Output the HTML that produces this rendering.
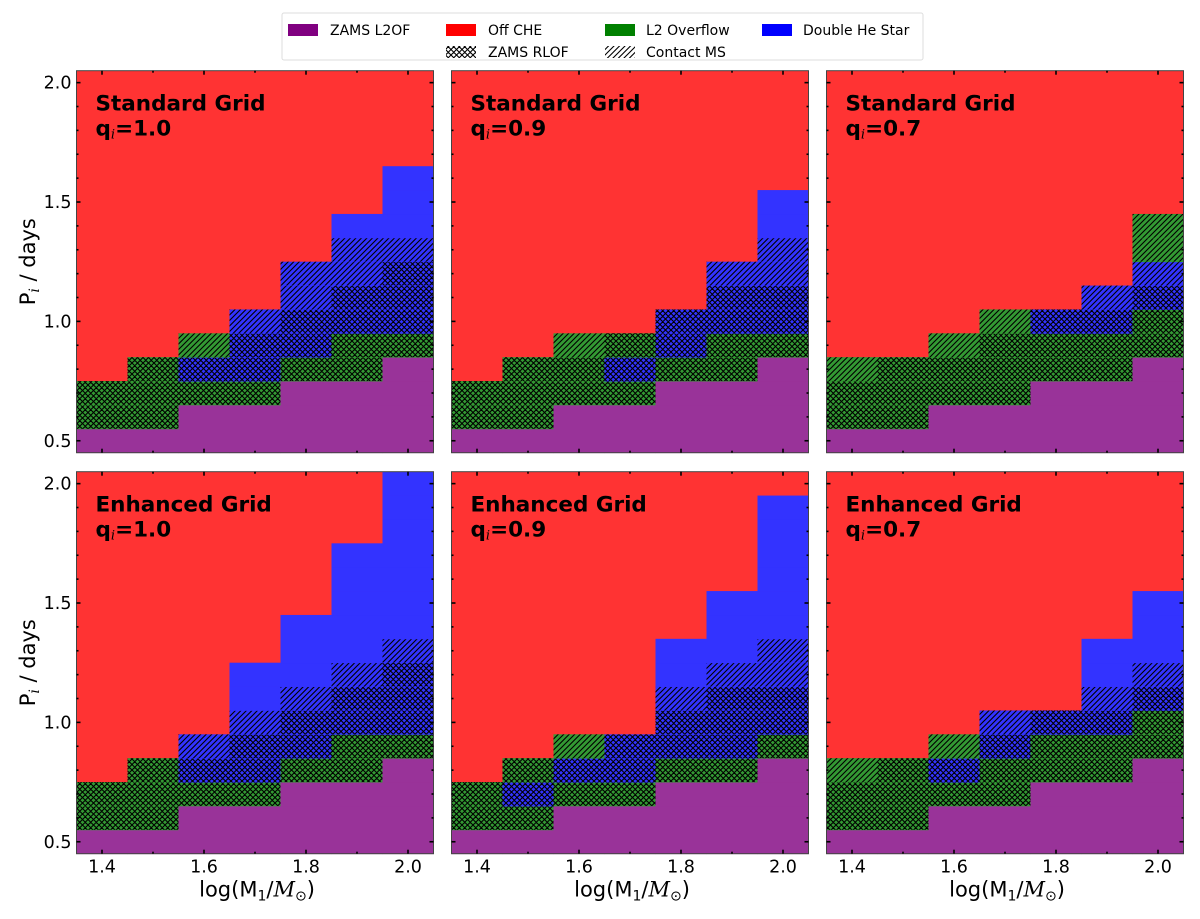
<!DOCTYPE html>
<html><head><meta charset="utf-8"><style>
html,body{margin:0;padding:0;background:#fff;}
svg{display:block;font-family:"DejaVu Sans","Liberation Sans",sans-serif;}
</style></head><body>
<svg id="fig" width="1200" height="919" viewBox="0 0 1200 919" xmlns="http://www.w3.org/2000/svg">
<defs>
<pattern id="hx" patternUnits="userSpaceOnUse" width="5.5" height="5.5">
<path d="M0,5.5 L5.5,0 M-1,1 L1,-1 M4.5,6.5 L6.5,4.5 M0,0 L5.5,5.5 M-1,4.5 L1,6.5 M4.5,-1 L6.5,1" stroke="#000" stroke-width="1.1" fill="none"/>
</pattern>
<pattern id="hd" patternUnits="userSpaceOnUse" width="5.5" height="5.5">
<path d="M0,5.5 L5.5,0 M-1,1 L1,-1 M4.5,6.5 L6.5,4.5" stroke="#000" stroke-width="1.1" fill="none"/>
</pattern>
</defs>
<g>
<rect x="282" y="13" width="641" height="47" fill="#fff" stroke="#ddd" stroke-width="1" rx="2"/>
<g><rect x="288" y="24" width="30" height="12" fill="#800080"/><text x="330" y="35" font-size="14">ZAMS L2OF</text></g>
<g><rect x="446" y="24" width="30" height="12" fill="#ff0000"/><text x="488" y="35" font-size="14">Off CHE</text></g>
<g><rect x="605" y="24" width="30" height="12" fill="#008000"/><text x="646" y="35" font-size="14">L2 Overflow</text></g>
<g><rect x="762" y="24" width="30" height="12" fill="#0000ff"/><text x="803" y="35" font-size="14">Double He Star</text></g>
<g><rect x="446" y="46" width="30" height="12" fill="url(#hx)"/><text x="488" y="57" font-size="14">ZAMS RLOF</text></g>
<g><rect x="605" y="46" width="30" height="12" fill="url(#hd)"/><text x="646" y="57" font-size="14">Contact MS</text></g>
</g>
<g id="panels"></g>
</svg>
<script>
// Data: mass bins (log M1) and period bins (P_i / days)
const massBins = [1.4, 1.5, 1.6, 1.7, 1.8, 1.9, 2.0];
const periodBins = [0.5,0.6,0.7,0.8,0.9,1.0,1.1,1.2,1.3,1.4,1.5,1.6,1.7,1.8,1.9,2.0];
const xTickVals = [1.4, 1.6, 1.8, 2.0];
const xTickLabels = ["1.4", "1.6", "1.8", "2.0"];
const yTickVals = [0.5, 1.0, 1.5, 2.0];
const yTickLabels = ["0.5", "1.0", "1.5", "2.0"];
const panelGrids = ["Standard Grid","Standard Grid","Standard Grid","Enhanced Grid","Enhanced Grid","Enhanced Grid"];
const panelQ = ["1.0","0.9","0.7","1.0","0.9","0.7"];
// cell codes per mass column, from P=0.5 upward; remaining rows are Off CHE
// p=ZAMS L2OF, X=L2 overflow+ZAMS RLOF, D=L2 overflow+contact, g=L2 overflow,
// x=double He+ZAMS RLOF, d=double He+contact, b=double He, r=off CHE
const cellsStdQ10 = ["pXX","pXXX","ppXxD","ppXxxd","pppXxxdd","pppXXxxddb","ppppXxxxdbbb"];
const cellsStdQ09 = ["pXX","pXXX","ppXXD","ppXxX","pppXxx","pppXXxxd","ppppXxxddbb"];
const cellsStdQ07 = ["pXXD","pXXX","ppXXD","ppXXXD","pppXXx","pppXXxd","ppppXXxdDD"];
const cellsEnhQ10 = ["pXX","pXXX","ppXxd","ppXxxdbb","pppXxxdbbb","pppXXxxdbbbbb","ppppXxxxdbbbbbbb"];
const cellsEnhQ09 = ["pXX","pXxX","ppXxD","ppXxx","pppXxxdbb","pppXxxxdbbb","ppppXxxddbbbbbb"];
const cellsEnhQ07 = ["pXXD","pXXX","ppXxD","ppXXxd","pppXXx","pppXXxdbb","ppppXXxdbbb"];
const panelCells = [cellsStdQ10, cellsStdQ09, cellsStdQ07, cellsEnhQ10, cellsEnhQ09, cellsEnhQ07];

const NS = "http://www.w3.org/2000/svg";
const colX = [76.5, 451.5, 826.5];
const rowY = [70.7, 471.7];
const PW = 357, PH = 382;
const xMin = 1.35, xMax = 2.05, yMin = 0.45, yMax = 2.05;
const fillOf = {p:"#993399", X:"#339933", D:"#339933", g:"#339933", x:"#3333ff", d:"#3333ff", b:"#3333ff", r:"#ff3333"};
const hatchOf = {X:"url(#hx)", x:"url(#hx)", D:"url(#hd)", d:"url(#hd)"};
function mk(tag, attrs, parent){ const e=document.createElementNS(NS,tag); for(const k in attrs) e.setAttribute(k,attrs[k]); parent.appendChild(e); return e; }
const root = document.getElementById('panels');
for (let pi=0; pi<6; pi++){
  const c = pi%3, r = Math.floor(pi/3);
  const L = colX[c], T = rowY[r];
  const sx = v => L + (v - xMin)/(xMax - xMin)*PW;
  const sy = v => T + PH - (v - yMin)/(yMax - yMin)*PH;
  const g = mk('g', {}, root);
  
  
  const bg = mk('rect', {x:L, y:T, width:PW, height:PH, fill:fillOf.r}, g);
  
  
  const cells = panelCells[pi];
  for (let mi=0; mi<massBins.length; mi++){
    const col = cells[mi];
    for (let k=0; k<col.length; k++){
      const code = col[k];
      const m = massBins[mi], p = periodBins[k];
      const x0 = sx(m-0.05), x1 = sx(m+0.05), y0 = sy(p+0.05), y1 = sy(p-0.05);
      const rc = mk('rect', {x:x0, y:y0, width:x1-x0+0.4, height:y1-y0+0.4, fill:fillOf[code]}, g);
      
      
      if (hatchOf[code]) {
        const h = mk('rect', {x:x0, y:y0, width:x1-x0, height:y1-y0, fill:hatchOf[code]}, g);
        
        
      }
    }
  }
  const fr = mk('rect', {x:L, y:T, width:PW, height:PH, fill:'none', stroke:'#444', 'stroke-width':1}, g);
  
  
  for (let v=1.4; v<=2.0001; v+=0.1){
    const major = Math.abs((v*10)%2) < 0.01 || Math.abs((v*10)%2-2)<0.01;
    const len = major?4:2;
    const X = sx(v);
    mk('line',{x1:X,y1:T+PH,x2:X,y2:T+PH-len,stroke:'#000','stroke-width':1.6},g);
    mk('line',{x1:X,y1:T,x2:X,y2:T+len,stroke:'#000','stroke-width':1.6},g);
  }
  for (let k=0;k<periodBins.length;k++){
    const v = periodBins[k];
    const major = yTickVals.some(t=>Math.abs(t-v)<1e-6);
    const len = major?4:2;
    const Y = sy(v);
    mk('line',{x1:L,y1:Y,x2:L+len,y2:Y,stroke:'#000','stroke-width':1.6},g);
    mk('line',{x1:L+PW,y1:Y,x2:L+PW-len,y2:Y,stroke:'#000','stroke-width':1.6},g);
  }
  if (c===0){
    for (let k=0;k<yTickVals.length;k++){
      const t = mk('text',{x:L-5,y:sy(yTickVals[k])+6,'font-size':17.5,'text-anchor':'end'},g);
      t.textContent = yTickLabels[k];
      
      
    }
    const yl = mk('text',{x:0,y:0,'font-size':21,'text-anchor':'middle',transform:`translate(35,${T+PH/2}) rotate(-90)`},g);
    
    
    yl.innerHTML = 'P<tspan font-size="14" font-style="italic" font-family="DejaVu Serif,serif" dy="4">i</tspan><tspan dy="-4"> / days</tspan>';
  }
  if (r===1){
    for (let k=0;k<xTickVals.length;k++){
      const t = mk('text',{x:sx(xTickVals[k]),y:T+PH+19,'font-size':17.5,'text-anchor':'middle'},g);
      t.textContent = xTickLabels[k];
      
      
    }
    const xl = mk('text',{x:L+PW/2+2,y:T+PH+43,'font-size':21,'text-anchor':'middle'},g);
    
    
    xl.innerHTML = 'log(M<tspan font-size="14" dy="4">1</tspan><tspan dy="-4">/</tspan><tspan font-style="italic" font-family="DejaVu Serif,serif">M</tspan><tspan font-size="14" dy="4">⊙</tspan><tspan dy="-4">)</tspan>';
  }
  const t1 = mk('text',{x:L+19,y:T+40,'font-size':21.5,'font-weight':'bold'},g);
  t1.textContent = panelGrids[pi];
  
  
  const t2 = mk('text',{x:L+19,y:T+65,'font-size':21.5,'font-weight':'bold'},g);
  t2.innerHTML = 'q<tspan font-size="13" font-weight="normal" font-style="italic" font-family="DejaVu Serif,serif" dy="3">i</tspan><tspan dy="-3">=' + panelQ[pi] + '</tspan>';
  
  
}
</script>
</body></html>
